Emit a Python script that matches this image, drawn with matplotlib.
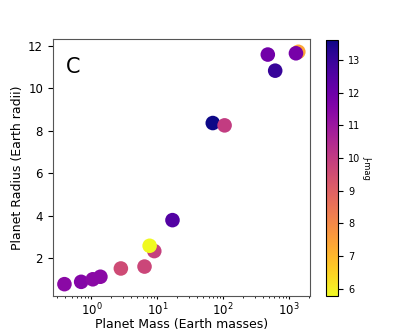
import matplotlib
matplotlib.use("Agg")
import matplotlib.pyplot as plt
import numpy as np

mass = [0.39, 0.70, 1.05, 1.37, 2.8, 6.4, 9.0, 7.65, 17, 69.5, 105, 475, 615, 1380, 1270]
radius = [0.77, 0.88, 1.0, 1.12, 1.51, 1.6, 2.33, 2.58, 3.79, 8.37, 8.26, 11.6, 10.84, 11.73, 11.66]
jmag = [11.4, 11.5, 11.4, 11.4, 9.6, 9.7, 9.9, 5.78, 12.5, 13.61, 10.0, 11.9, 13.0, 7.4, 11.8]

fig = plt.figure(figsize=(4.16, 3.33), dpi=100)
ax = fig.add_axes([0.127, 0.111, 0.617, 0.771])
cax = fig.add_axes([0.783, 0.111, 0.030, 0.769])

sc = ax.scatter(mass, radius, c=jmag, cmap="plasma_r", s=110, edgecolors="none")
ax.set_xscale("log")
ax.set_xlim(0.26, 2040)
ax.set_ylim(0.21, 12.32)
ax.set_xlabel("Planet Mass (Earth masses)", fontsize=9, labelpad=0)
ax.set_ylabel("Planet Radius (Earth radii)", fontsize=9, labelpad=3)
ax.tick_params(labelsize=8.5)
ax.tick_params(axis="x", which="major", length=2.5, pad=1.5)
ax.tick_params(axis="x", which="minor", length=1.5)
ax.text(0.05, 0.93, "C", transform=ax.transAxes, fontsize=15, va="top")
for sp in ax.spines.values():
    sp.set_color("#555555")

cb = fig.colorbar(sc, cax=cax)
cb.set_label("J-mag", rotation=270, fontsize=6, labelpad=8)
cb.ax.tick_params(labelsize=7)

fig.savefig("out.png", dpi=100)
